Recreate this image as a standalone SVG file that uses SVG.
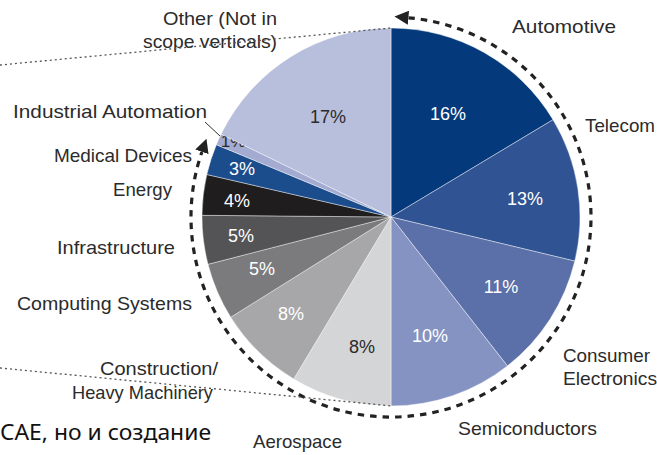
<svg xmlns="http://www.w3.org/2000/svg" width="657" height="455" viewBox="0 0 657 455">
<style>
.slice{stroke:#ffffff;stroke-width:0.6;stroke-opacity:0.7}
.lbl{font-family:"Liberation Sans",Arial,sans-serif;font-size:19px;fill:#2b2b2b}
.pct{font-family:"Liberation Sans",Arial,sans-serif;font-size:18px;fill:#ffffff;text-anchor:middle}
.dk{fill:#2b2b2b}
.end{text-anchor:end}
.dot{fill:none;stroke:#555;stroke-width:1.3;stroke-dasharray:2 3}
.dash{fill:none;stroke:#222;stroke-width:3.2;stroke-dasharray:6.5 6}
</style>
<defs>
<marker id="ah" viewBox="0 0 14 14" markerWidth="14" markerHeight="14" refX="0" refY="7" orient="auto-start-reverse" markerUnits="userSpaceOnUse">
<path d="M0,0 L14,7 L0,14 Z" fill="#222"/>
</marker>
</defs>
<rect width="657" height="455" fill="#ffffff"/>
<g id="automotive">
<path class="slice" fill="#043a7b" d="M391,217 L391,28 A189,189 0 0 1 553.0,119.7 Z"/>
<text class="pct" x="448" y="120">16%</text>
<text class="lbl" x="512" y="33" textLength="104" lengthAdjust="spacingAndGlyphs">Automotive</text>
</g>
<g id="telecom">
<path class="slice" fill="#2f5393" d="M391,217 L553.0,119.7 A189,189 0 0 1 574.8,261.1 Z"/>
<text class="pct" x="525" y="205">13%</text>
<text class="lbl" x="585" y="132" textLength="70" lengthAdjust="spacingAndGlyphs">Telecom</text>
</g>
<g id="consumer-electronics">
<path class="slice" fill="#5b70a8" d="M391,217 L574.8,261.1 A189,189 0 0 1 507.4,365.9 Z"/>
<text class="pct" x="501" y="293">11%</text>
<text class="lbl" x="563" y="362" textLength="87" lengthAdjust="spacingAndGlyphs">Consumer</text>
<text class="lbl" x="563" y="385" textLength="94" lengthAdjust="spacingAndGlyphs">Electronics</text>
</g>
<g id="semiconductors">
<path class="slice" fill="#8593c2" d="M391,217 L507.4,365.9 A189,189 0 0 1 391,406 Z"/>
<text class="pct" x="430" y="342">10%</text>
<text class="lbl" x="458" y="435" textLength="139" lengthAdjust="spacingAndGlyphs">Semiconductors</text>
</g>
<g id="aerospace">
<path class="slice" fill="#d4d5d7" d="M391,217 L391,406 A189,189 0 0 1 293.7,379.0 Z"/>
<text class="pct dk" x="362" y="353">8%</text>
<text class="lbl" x="253" y="448" textLength="89" lengthAdjust="spacingAndGlyphs">Aerospace</text>
</g>
<g id="construction">
<path class="slice" fill="#a7a7a9" d="M391,217 L293.7,379.0 A189,189 0 0 1 230.7,317.2 Z"/>
<text class="pct" x="291" y="320">8%</text>
<text class="lbl end" x="218" y="375" textLength="118" lengthAdjust="spacingAndGlyphs">Construction/</text>
<text class="lbl end" x="213" y="399" textLength="141" lengthAdjust="spacingAndGlyphs">Heavy Machinery</text>
</g>
<g id="computing-systems">
<path class="slice" fill="#7b7b7d" d="M391,217 L230.7,317.2 A189,189 0 0 1 208.0,264.3 Z"/>
<text class="pct" x="262" y="275">5%</text>
<text class="lbl end" x="192" y="310" textLength="175" lengthAdjust="spacingAndGlyphs">Computing Systems</text>
</g>
<g id="infrastructure">
<path class="slice" fill="#545456" d="M391,217 L208.0,264.3 A189,189 0 0 1 202.0,215.3 Z"/>
<text class="pct" x="241" y="242">5%</text>
<text class="lbl end" x="175" y="254" textLength="118" lengthAdjust="spacingAndGlyphs">Infrastructure</text>
</g>
<g id="energy">
<path class="slice" fill="#1f1d1e" d="M391,217 L202.0,215.3 A189,189 0 0 1 206.8,174.5 Z"/>
<text class="pct" x="237" y="207">4%</text>
<text class="lbl end" x="172" y="196" textLength="59" lengthAdjust="spacingAndGlyphs">Energy</text>
</g>
<g id="medical-devices">
<path class="slice" fill="#1b4c8c" d="M391,217 L206.8,174.5 A189,189 0 0 1 216.4,144.7 Z"/>
<text class="pct" x="242" y="175">3%</text>
<text class="lbl end" x="192" y="162" textLength="138" lengthAdjust="spacingAndGlyphs">Medical Devices</text>
</g>
<g id="industrial-automation">
<path class="slice" fill="#a3abd0" d="M391,217 L216.4,144.7 A189,189 0 0 1 221.1,134.1 Z"/>
<text class="pct dk" x="233" y="147" style="font-size:17px">1%</text>
<text class="lbl end" x="207" y="118" textLength="194" lengthAdjust="spacingAndGlyphs">Industrial Automation</text>
</g>
<g id="other">
<path class="slice" fill="#b8bfdc" d="M391,217 L221.1,134.1 A189,189 0 0 1 391,28 Z"/>
<text class="pct dk" x="328" y="123">17%</text>
<text class="lbl end" x="277" y="25" textLength="114" lengthAdjust="spacingAndGlyphs">Other (Not in</text>
<text class="lbl end" x="277" y="48" textLength="134" lengthAdjust="spacingAndGlyphs">scope verticals)</text>
</g>
<g id="connectors">
<path class="dash" d="M408.4,17.8 A200,200 0 1 1 201.9,151.9" marker-start="url(#ah)" marker-end="url(#ah)"/>
<line class="dot" x1="0" y1="65" x2="391" y2="28"/>
<line class="dot" x1="0" y1="368" x2="392" y2="406"/>
<line x1="205" y1="122" x2="220" y2="136" stroke="#333" stroke-width="1"/>
</g>
<text x="0" y="440" font-family="'Noto Sans','Liberation Sans',sans-serif" font-size="21" fill="#111" textLength="211" lengthAdjust="spacingAndGlyphs">CAE, но и создание</text>
</svg>
